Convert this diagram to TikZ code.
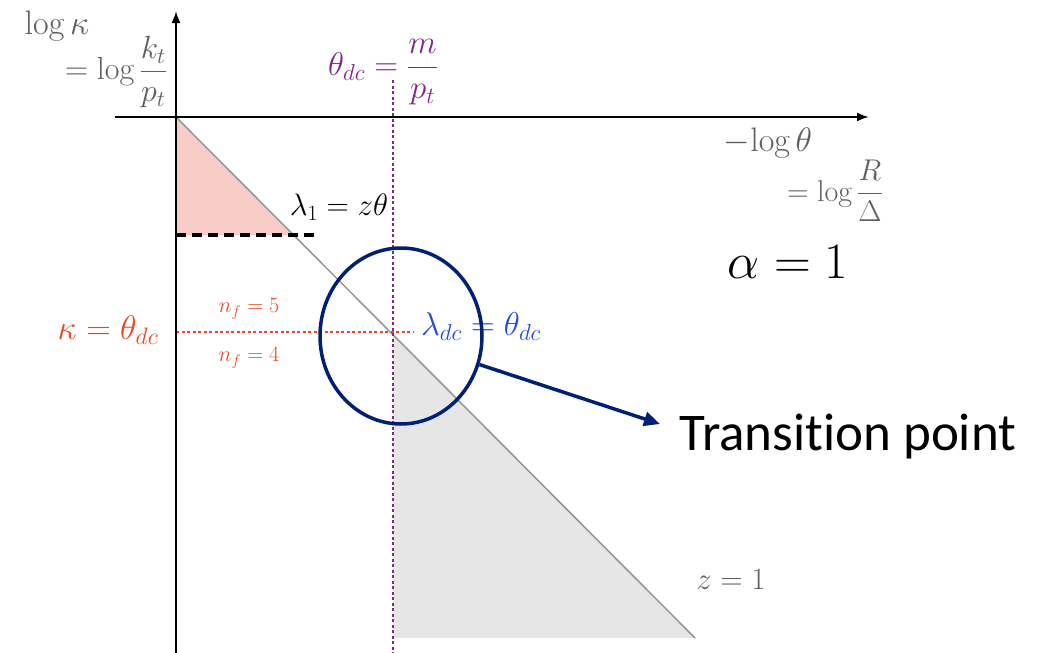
\RequirePackage{fix-cm}
\documentclass[tikz,border=0pt]{standalone}
\usepackage{fontspec}
\usepackage{amsmath}
\newfontfamily\carlito[Ligatures=NoCommon]{Carlito}
\usetikzlibrary{arrows.meta,shapes.geometric}
\definecolor{grigioTesto}{RGB}{95,95,95}
\definecolor{grigioRetta}{RGB}{150,150,150}
\definecolor{grigioArea}{RGB}{230,230,230}
\definecolor{rosaArea}{RGB}{248,205,200}
\definecolor{rossoSoglia}{RGB}{232,72,38}
\definecolor{violaSoglia}{RGB}{130,40,140}
\definecolor{bluPunto}{RGB}{35,75,220}
\definecolor{bluScuro}{RGB}{0,32,120}
\newcommand{\corpo}[1]{\fontsize{#1}{#1}\selectfont}

\begin{document}
\begin{tikzpicture}[x=1pt,y=-1pt,
  asse/.style={line width=2pt,-{Latex[length=12pt,width=9pt]}},
  etichetta/.style={inner sep=0pt,text=grigioTesto},
  soglia/.style={line width=2pt,dash pattern=on 3pt off 2.5pt}]
  \useasboundingbox (0,0) rectangle (1050,653);
  \coordinate (origine) at (176,117);
  \coordinate (incrocio) at (393,333);
  \coordinate (fondo) at (695,638);
  % Zone colorate sotto la retta z=1.
  \fill[rosaArea] (origine) -- (294,235) -- (176,235) -- cycle;
  \fill[grigioArea] (incrocio) -- (fondo) -- (393,638) -- cycle;
  \draw[grigioRetta,line width=1.5pt] (origine) -- (fondo);
  % Soglie: verticale viola e orizzontale rossa.
  \draw[soglia,violaSoglia] (393,80) -- (393,653);
  \draw[soglia,rossoSoglia] (176,332) -- (413,332);
  \draw[line width=3.5pt,dash pattern=on 10pt off 6pt] (176,235) -- (320,235);
  % Assi.
  \draw[asse] (176,653) -- (176,11);
  \draw[asse] (115,117) -- (869,117);
  \node[etichetta] (assey) at (57,26) {\corpo{34}$\log\kappa$};
  \node[etichetta,anchor=east] (assey2) at (167,72) {\corpo{32}$\displaystyle=\log\frac{k_t}{p_t}$};
  \node[etichetta] (assex) at (768,143) {\corpo{34}$-\!\log\theta$};
  \node[etichetta] (assex2) at (835,191) {\corpo{30}$\displaystyle=\log\frac{R}{\Delta}$};
  \node[inner sep=0pt,text=violaSoglia] (tdc) at (383,72) {\corpo{33}$\displaystyle\theta_{dc}=\frac{m}{p_t}$};
  \node[inner sep=0pt] (lambda1) at (339,207) {\corpo{31}$\lambda_1=z\theta$};
  \node[inner sep=0pt,text=rossoSoglia] (kdc) at (108,330) {\corpo{34}$\kappa=\theta_{dc}$};
  \node[inner sep=0pt,text=rossoSoglia] (nf5) at (249,309) {\corpo{22}$n_f=5$};
  \node[inner sep=0pt,text=rossoSoglia] (nf4) at (249,358) {\corpo{22}$n_f=4$};
  \node[inner sep=0pt,text=bluPunto] (ldc) at (481,327) {\corpo{33}$\lambda_{dc}=\theta_{dc}$};
  \node[inner sep=0pt] (alfa) at (788,262) {\corpo{51}$\alpha=1$};
  \node[etichetta] (zeta) at (731,580) {\corpo{31}$z=1$};
  % Punto di transizione evidenziato.
  \node[draw=bluScuro,line width=3.5pt,ellipse,minimum width=162pt,minimum height=176pt] (cerchio) at (401,336) {};
  \node[inner sep=0pt] (transizione) at (848,437) {\carlito\corpo{53}Transition point};
  \coordinate (punta) at (660,424);
  \draw[bluScuro,line width=3.5pt,-{Triangle[length=16pt,width=14pt]}] (cerchio.-20) -- (punta);
\end{tikzpicture}
\end{document}
